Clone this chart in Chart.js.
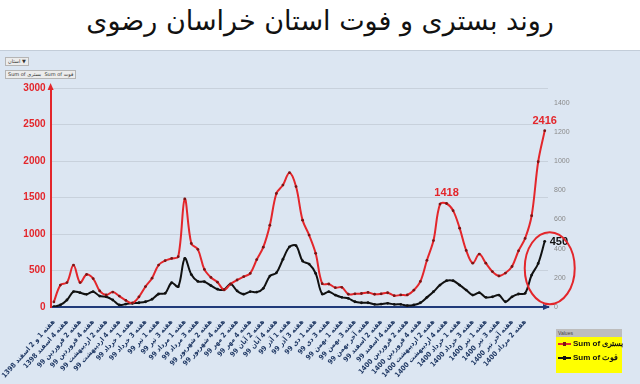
<!DOCTYPE html>
<html>
<head>
<meta charset="utf-8">
<title>روند بستری و فوت استان خراسان رضوی</title>
<script src="https://cdn.jsdelivr.net/npm/chart.js@4.4.1/dist/chart.umd.min.js"></script>
<style>
  html, body { margin: 0; padding: 0; }
  body {
    width: 640px; height: 384px; position: relative; overflow: hidden;
    background: #fff; font-family: "DejaVu Sans", sans-serif;
  }
  .title {
    position: absolute; left: 0; top: 5px; width: 640px;
    text-align: center; font-size: 27px; color: #111; direction: rtl;
  }
  .panel {
    position: absolute; left: 0; top: 50px; width: 640px; height: 334px;
    background: #dce6f2; border-top: 1px solid #c3cdd9;
  }
  .chart-wrap { position: absolute; left: 0; top: 52px; width: 640px; height: 332px; }
  .btn {
    position: absolute; background: #ececec; border: 1px solid #b5b5b5;
    font-size: 5px; line-height: 7px; color: #333; padding: 0 2px; white-space: nowrap;
  }
  .legend {
    position: absolute; left: 556px; top: 329px; width: 66px; height: 44px;
    background: #ffff00; font-family: "Liberation Sans", sans-serif;
  }
  .legend .head { height: 8px; background: #bdbdbd; font-size: 5px; line-height: 8px; color: #444; padding-left: 2px; }
  .legend .item { position: relative; height: 14px; font-size: 8px; font-weight: bold; line-height: 14px; padding-left: 17px; color: #111; white-space: nowrap; }
  .legend .sw { position: absolute; left: 2px; top: 6px; width: 13px; height: 2px; }
  .legend .sw i { position: absolute; left: 5px; top: -1px; width: 3px; height: 4px; }
</style>
</head>
<body>
<div class="title">روند بستری و فوت استان خراسان رضوی</div>
<div class="panel"></div>
<div class="btn" style="left:5px; top:57px;">استان ▼</div>
<div class="btn" style="left:5px; top:70px;">Sum of بستری&nbsp; Sum of فوت</div>
<div class="chart-wrap"><canvas id="trend"></canvas></div>
<div class="legend">
  <div class="head">Values</div>
  <div class="item"><span class="sw" style="background:#e3262b"><i style="background:#7a1414"></i></span>Sum of بستری</div>
  <div class="item"><span class="sw" style="background:#111"><i style="background:#111"></i></span>Sum of فوت</div>
</div>

<script>
// x axis labels (every second week)
const tickLabels = [
  "هفته 1 و 2 اسفند 1398",
  "هفته 4 اسفند 1398",
  "هفته 2 فروردین 99",
  "هفته 4 فروردین 99",
  "هفته 2 اردیبهشت 99",
  "هفته 4 اردیبهشت 99",
  "هفته 1 خرداد 99",
  "هفته 3 خرداد 99",
  "هفته 1 تیر 99",
  "هفته 3 تیر 99",
  "هفته 1 مرداد 99",
  "هفته 3 مرداد 99",
  "هفته 2 شهریور 99",
  "هفته 4 شهریور 99",
  "هفته 2 مهر 99",
  "هفته 4 مهر 99",
  "هفته 2 آبان 99",
  "هفته 4 آبان 99",
  "هفته 1 آذر 99",
  "هفته 3 آذر 99",
  "هفته 1 دی 99",
  "هفته 3 دی 99",
  "هفته 1 بهمن 99",
  "هفته 3 بهمن 99",
  "هفته آخر بهمن 99",
  "هفته 2 اسفند 99",
  "هفته 4 اسفند 99",
  "هفته 2 فروردین 1400",
  "هفته 4 فروردین 1400",
  "هفته 2 اردیبهشت 1400",
  "هفته 4 اردیبهشت 1400",
  "هفته 1 خرداد 1400",
  "هفته 3 خرداد 1400",
  "هفته 1 تیر 1400",
  "هفته 3 تیر 1400",
  "هفته آخر تیر 1400",
  "هفته 2 مرداد 1400",
];

// weekly hospitalised (left axis)
const bastari = [
  70, 300, 335, 575, 335, 445, 390, 220, 165, 205,
  150, 90, 55, 140, 280, 395, 575, 635, 665, 690,
  1480, 870, 790, 515, 405, 340, 235, 315, 370, 415,
  460, 650, 820, 1120, 1555, 1670, 1840, 1650, 1190, 985,
  735, 320, 315, 265, 270, 175, 180, 185, 200, 175,
  180, 195, 155, 165, 165, 230, 350, 640, 910, 1410,
  1418, 1320, 1080, 775, 600, 725, 600, 485, 425, 465,
  555, 770, 940, 1250, 1990, 2416,
];

// weekly deaths (right axis)
const fot = [
  2, 14, 48, 105, 98, 87, 105, 75, 70, 48,
  14, 20, 25, 29, 36, 53, 89, 94, 166, 139,
  333, 222, 175, 173, 147, 122, 118, 157, 110, 88,
  105, 102, 128, 212, 234, 327, 412, 420, 315, 294,
  230, 89, 105, 82, 66, 59, 36, 29, 29, 18,
  20, 25, 18, 18, 10, 14, 29, 66, 105, 150,
  180, 180, 150, 116, 82, 98, 66, 70, 82, 36,
  70, 89, 94, 219, 298, 450,
];

// only every second week gets a label
const categories = bastari.map((v, i) => (i % 2 === 0 ? tickLabels[i / 2] || "" : ""));

const RED = "#e3262b";
const BLUE = "#1f3a7a";

// marked values
const peakIndex = bastari.indexOf(1418);
const lastIndex = bastari.length - 1;

const decorPlugin = {
  id: "decor",
  afterDraw(chart) {
    const { ctx, chartArea } = chart;
    const y1 = chart.scales.y1;
    const red = chart.getDatasetMeta(0).data;
    const black = chart.getDatasetMeta(1).data;
    ctx.save();

    // arrow heads on the axes
    ctx.fillStyle = RED;
    ctx.beginPath();
    ctx.moveTo(chartArea.left, chartArea.top - 5);
    ctx.lineTo(chartArea.left - 3, chartArea.top + 2);
    ctx.lineTo(chartArea.left + 3, chartArea.top + 2);
    ctx.fill();
    ctx.fillStyle = BLUE;
    ctx.beginPath();
    ctx.moveTo(chartArea.right + 2, chartArea.bottom);
    ctx.lineTo(chartArea.right - 5, chartArea.bottom - 3);
    ctx.lineTo(chartArea.right - 5, chartArea.bottom + 3);
    ctx.fill();

    // value labels
    ctx.font = "bold 11px 'Liberation Sans'";
    ctx.textAlign = "center";
    ctx.textBaseline = "alphabetic";
    ctx.fillStyle = RED;
    [peakIndex, lastIndex].forEach((i) => {
      ctx.fillText(String(bastari[i]), red[i].x, red[i].y - 7);
    });
    ctx.fillStyle = "#111";
    ctx.textAlign = "left";
    ctx.textBaseline = "middle";
    const lastBlack = black[fot.length - 1];
    ctx.fillText(String(fot[fot.length - 1]), lastBlack.x + 5, lastBlack.y + 1);

    // red circle around the latest deaths
    ctx.strokeStyle = RED;
    ctx.lineWidth = 2;
    ctx.beginPath();
    ctx.ellipse(lastBlack.x + 5, y1.getPixelForValue(266), 25, 36, 0, 0, Math.PI * 2);
    ctx.stroke();

    ctx.restore();
  },
};

const ctx = document.getElementById("trend").getContext("2d");
const trendChart = new Chart(ctx, {
  type: "line",
  data: {
    labels: categories,
    datasets: [
      {
        label: "Sum of بستری",
        data: bastari,
        yAxisID: "y",
        borderColor: RED,
        borderWidth: 2,
        pointRadius: 1.4,
        pointBackgroundColor: "#7a1414",
        pointBorderWidth: 0,
        tension: 0.35,
      },
      {
        label: "Sum of فوت",
        data: fot,
        yAxisID: "y1",
        borderColor: "#111",
        borderWidth: 2,
        pointRadius: 1.4,
        pointBackgroundColor: "#111",
        pointBorderWidth: 0,
        tension: 0.35,
      },
    ],
  },
  options: {
    responsive: true,
    maintainAspectRatio: false,
    animation: false,
    layout: { padding: { top: 36, right: 68, left: 0, bottom: 0 } },
    plugins: {
      legend: { display: false },
      tooltip: { enabled: false },
    },
    scales: {
      x: {
        offset: true,
        grid: { display: false },
        border: { color: BLUE, width: 2 },
        ticks: {
          autoSkip: false,
          maxRotation: 48,
          minRotation: 48,
          padding: 3,
          color: "#1f3864",
          font: { family: "DejaVu Sans Condensed", size: 7, weight: "bold" },
        },
        afterFit(scale) {
          scale.height = 77;
        },
      },
      y: {
        position: "left",
        min: 0,
        max: 3000,
        ticks: {
          stepSize: 500,
          padding: 5,
          color: RED,
          font: { family: "Liberation Sans", size: 10, weight: "bold" },
          callback: (v) => String(v),
        },
        grid: { color: "#c8d1dc", drawTicks: false },
        border: { color: RED, width: 2 },
        afterFit(scale) {
          scale.width = 50;
        },
      },
      y1: {
        position: "right",
        min: 0,
        max: 1500,
        ticks: {
          stepSize: 200,
          includeBounds: false,
          padding: 6,
          color: "#8a8a8a",
          font: { family: "Liberation Sans", size: 7 },
          callback: (v) => String(v),
        },
        grid: { display: false, drawTicks: false },
        border: { display: false },
        afterFit(scale) {
          scale.width = 24;
        },
      },
    },
  },
  plugins: [decorPlugin],
});
</script>
</body>
</html>
